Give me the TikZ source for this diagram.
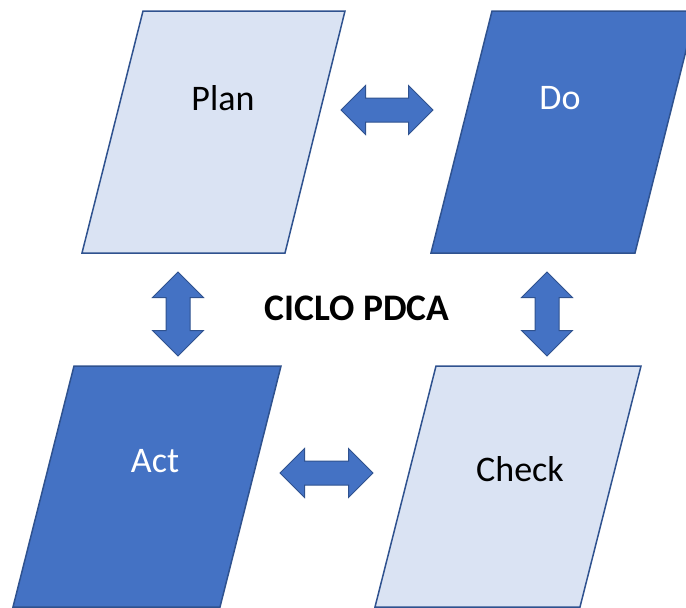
\documentclass[tikz,border=0pt]{standalone}
\usepackage{fontspec}
\setmainfont{Carlito}
\usepackage{xcolor}
\usepackage{tikz}
\usetikzlibrary{shapes.arrows}

\definecolor{pdcaline}{HTML}{2F528F}
\definecolor{pdcalight}{HTML}{DAE3F3}
\definecolor{pdcadark}{HTML}{4472C4}

\begin{document}
\begin{tikzpicture}[x=1pt, y=-1pt,
	box/.style={draw=pdcaline, line width=1.5pt, line join=miter},
	lightbox/.style={box, fill=pdcalight},
	darkbox/.style={box, fill=pdcadark},
	twoway/.style={double arrow, draw=pdcaline, fill=pdcadark, line width=1pt, inner sep=11.5pt,
		double arrow head extend=12.5pt},
	word/.style={font=\fontsize{36}{40}\selectfont, inner sep=0pt}]
	\useasboundingbox (0,0) rectangle (686,608);
	% the four steps
	\draw[lightbox] (143,11) -- ++(202,0) -- ++(-60,242) -- ++(-203,0) -- cycle;
	\draw[darkbox] (492,11) -- ++(204,0) -- ++(-61,242) -- ++(-204,0) -- cycle;
	\draw[darkbox] (74,366) -- ++(207,0) -- ++(-61,241) -- ++(-207,0) -- cycle;
	\draw[lightbox] (436,366) -- ++(205,0) -- ++(-61,241) -- ++(-205,0) -- cycle;
	% labels
	\node[word] (plan) at (223,98) {Plan};
	\node[word, white] (do) at (560,98) {Do};
	\node[word, white] (act) at (155,461) {Act};
	\node[word] (check) at (520,469) {Check};
	\node[word, font=\fontsize{37.5}{40}\selectfont\bfseries] (title) at (357,308) {CICLO PDCA};
	% arrows between steps
	\node[twoway, minimum height=92pt] (pd) at (387,110) {};
	\node[twoway, minimum height=93pt] (ac) at (326.5,473) {};
	\node[twoway, minimum height=84pt, double arrow head extend=13.5pt, rotate=90] (pa) at (178,314) {};
	\node[twoway, minimum height=84pt, double arrow head extend=13.5pt, rotate=90] (dc) at (547,314) {};
\end{tikzpicture}
\end{document}
